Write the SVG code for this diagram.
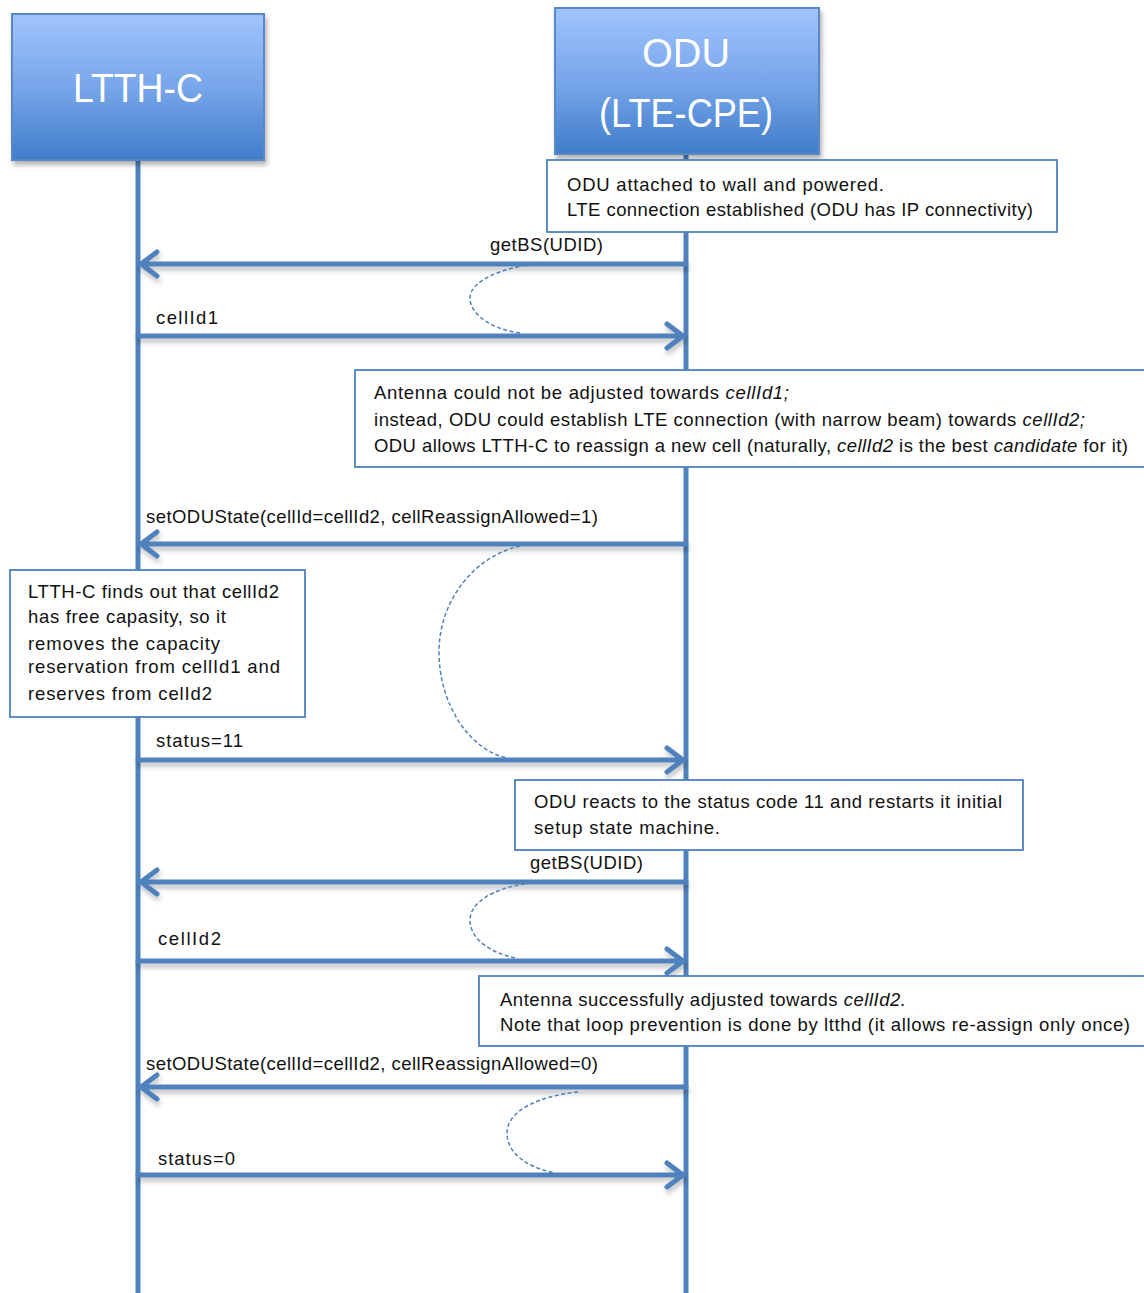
<svg xmlns="http://www.w3.org/2000/svg" width="1144" height="1293" viewBox="0 0 1144 1293">
<defs>
<linearGradient id="hdr" x1="0" y1="0" x2="0" y2="1">
<stop offset="0" stop-color="#a0c4fd"/>
<stop offset="0.5" stop-color="#78a6ea"/>
<stop offset="1" stop-color="#3f7dca"/>
</linearGradient>
<filter id="sh" x="-10%" y="-10%" width="130%" height="140%">
<feDropShadow dx="2" dy="4" stdDeviation="2.5" flood-color="#000" flood-opacity="0.3"/>
</filter>
<filter id="lsh" x="-5%" y="-50%" width="110%" height="300%">
<feDropShadow dx="1" dy="4" stdDeviation="2.5" flood-color="#000" flood-opacity="0.25"/>
</filter>
</defs>
<style>
.hdr{fill:url(#hdr);stroke:#5a88c4;stroke-width:2}
.htxt{font-family:"Liberation Sans",Arial,sans-serif;font-size:41px;fill:#fff;text-anchor:middle}
.life{stroke:#4f81bd;stroke-width:5;fill:none}
.msg{stroke:#4f81bd;stroke-width:5;fill:none;stroke-linecap:round;stroke-linejoin:round}
.loop{stroke:#4f81bd;stroke-width:1.5;fill:none;stroke-dasharray:4 2.5}
.note{fill:#fff;stroke:#4f81bd;stroke-width:1.8}
.t{font-family:"Liberation Sans",Arial,sans-serif;font-size:18.5px;fill:#111}
.i{font-style:italic}
</style>
<rect width="1144" height="1293" fill="#fff"/>

<g id="lifelines">
<line class="life" x1="138" y1="160" x2="138" y2="1293"/>
<line class="life" x1="686" y1="154" x2="686" y2="1293"/>
</g>

<g id="ltthc">
<rect class="hdr" x="12" y="14" width="252" height="146" filter="url(#sh)"/>
<text class="htxt" x="138" y="102" textLength="130" lengthAdjust="spacingAndGlyphs">LTTH-C</text>
</g>

<g id="odu">
<rect class="hdr" x="555" y="8" width="264" height="146" filter="url(#sh)"/>
<text class="htxt" x="686" y="67" textLength="88" lengthAdjust="spacingAndGlyphs">ODU</text>
<text class="htxt" x="686" y="127" textLength="174" lengthAdjust="spacingAndGlyphs">(LTE-CPE)</text>
</g>

<g id="connectors">
<g filter="url(#lsh)">
<path class="msg" d="M686,264 H141 M157,252 L141,264 L157,276"/>
<path class="msg" d="M138,336 H683 M667,324 L683,336 L667,348"/>
<path class="msg" d="M686,544 H141 M157,532 L141,544 L157,556"/>
<path class="msg" d="M138,760 H683 M667,748 L683,760 L667,772"/>
<path class="msg" d="M686,882 H141 M157,870 L141,882 L157,894"/>
<path class="msg" d="M138,961 H683 M667,949 L683,961 L667,973"/>
<path class="msg" d="M686,1087 H141 M157,1075 L141,1087 L157,1099"/>
<path class="msg" d="M138,1175 H683 M667,1163 L683,1175 L667,1187"/>
</g>
<path class="loop" d="M545,263 C505,266 470,280 470,298 C470,316 495,330 520,333"/>
<path class="loop" d="M520,546 C475,556 439,600 439,652 C439,705 470,750 507,758"/>
<path class="loop" d="M525,884 C495,888 470,902 470,920 C470,940 492,953 515,958"/>
<path class="loop" d="M578,1092 C540,1096 507,1110 507,1133 C507,1155 530,1168 555,1173"/>
<text class="t" x="490" y="251" textLength="113">getBS(UDID)</text>
<text class="t" x="156" y="324" textLength="62">cellId1</text>
<text class="t" x="146" y="523" textLength="452">setODUState(cellId=cellId2, cellReassignAllowed=1)</text>
<text class="t" x="156" y="747" textLength="87">status=11</text>
<text class="t" x="530" y="869" textLength="113">getBS(UDID)</text>
<text class="t" x="158" y="945" textLength="63">cellId2</text>
<text class="t" x="146" y="1070" textLength="452">setODUState(cellId=cellId2, cellReassignAllowed=0)</text>
<text class="t" x="158" y="1165" textLength="77">status=0</text>
</g>

<g id="note1">
<rect class="note" x="547" y="160" width="510" height="72"/>
<text class="t" x="567" y="191" textLength="317">ODU attached to wall and powered.</text>
<text class="t" x="567" y="216" textLength="466">LTE connection established (ODU has IP connectivity)</text>
</g>

<g id="note2">
<rect class="note" x="355" y="370" width="800" height="97"/>
<text class="t" x="374" y="399" textLength="415">Antenna could not be adjusted towards <tspan class="i">cellId1;</tspan></text>
<text class="t" x="374" y="426" textLength="711">instead, ODU could establish LTE connection (with narrow beam) towards <tspan class="i">cellId2;</tspan></text>
<text class="t" x="374" y="452" textLength="754">ODU allows LTTH-C to reassign a new cell (naturally, <tspan class="i">cellId2</tspan> is the best <tspan class="i">candidate</tspan> for it)</text>
</g>

<g id="note3">
<rect class="note" x="10" y="570" width="295" height="147"/>
<text class="t" x="28" y="598" textLength="251">LTTH-C finds out that cellId2</text>
<text class="t" x="28" y="623" textLength="198">has free capasity, so it</text>
<text class="t" x="28" y="650" textLength="192">removes the capacity</text>
<text class="t" x="28" y="673" textLength="252">reservation from cellId1 and</text>
<text class="t" x="28" y="700" textLength="184">reserves from celId2</text>
</g>

<g id="note4">
<rect class="note" x="515" y="780" width="508" height="70"/>
<text class="t" x="534" y="808" textLength="468">ODU reacts to the status code 11 and restarts it initial</text>
<text class="t" x="534" y="834" textLength="186">setup state machine.</text>
</g>

<g id="note5">
<rect class="note" x="479" y="976" width="680" height="70"/>
<text class="t" x="500" y="1006" textLength="406">Antenna successfully adjusted towards <tspan class="i">cellId2.</tspan></text>
<text class="t" x="500" y="1031" textLength="630">Note that loop prevention is done by ltthd (it allows re-assign only once)</text>
</g>
</svg>
